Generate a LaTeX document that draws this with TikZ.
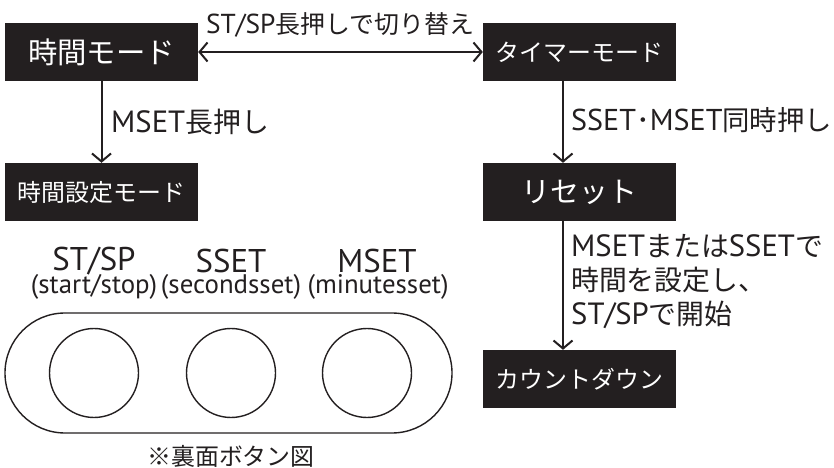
\documentclass[tikz,border=0pt]{standalone}
\usepackage{fontspec}
\setmainfont[Scale=1.1]{PT Sans}
\newfontfamily\cjk{Noto Sans CJK JP}
\newcommand{\J}[1]{{\cjk #1}}
\newcommand{\fs}[1]{\fontsize{#1}{#1}\selectfont}
\usetikzlibrary{arrows.meta}
\definecolor{ink}{HTML}{231F20}
\tikzset{
 px/.style={x=1bp,y=-1bp},
 blk/.style={fill=ink,text=white,inner sep=0pt,minimum width=193bp,minimum height=58bp,font=\cjk},
 barb/.tip={Straight Barb[length=8bp,width=19bp,line width=2bp]},
 conn/.style={draw=ink,line width=2bp,-barb},
 conn2/.style={draw=ink,line width=2bp,barb-barb},
 lab/.style={inner sep=0pt,text=ink,anchor=west,font=\fs{28}},
 lab2/.style={inner sep=0pt,text=ink,anchor=center},
 ring/.style={draw=ink,line width=1.4bp,circle,minimum size=89bp,inner sep=0pt},
}
\begin{document}
\begin{tikzpicture}[px]
\useasboundingbox (0,0) rectangle (834,468);
\node[blk,font=\cjk\fs{29.5}] (time) at (101.5,52) {時間モード};
\node[blk,font=\cjk\fs{24}] (timer) at (579.5,52) {タイマーモード};
\node[blk,font=\cjk\fs{24}] (set) at (101.5,192) {時間設定モード};
\node[blk,font=\cjk\fs{29}] (reset) at (579.5,192) {リセット};
\node[blk,font=\cjk\fs{24}] (cd) at (579.5,379) {カウントダウン};
\draw[conn2] (time.east) -- (timer.west);
\draw[conn] (time.south) ++(0,0) coordinate (a1) -- (a1 |- set.north);
\coordinate (tx) at (563,0);
\draw[conn] (tx |- timer.south) -- (tx |- reset.north);
\draw[conn] (tx |- reset.south) -- (tx |- cd.north);
\node[lab2,font=\fs{25}] (l1) at (340,25) {ST/SP\J{長押しで切り替え}};
\node[lab] (l2) at (111,122) {MSET\J{長押し}};
\node[lab,font=\fs{27.5}] (l3) at (571,120) {SSET\J{･}MSET\J{同時押し}};
\node[lab] (l4a) at (571,246) {MSET\J{または}SSET\J{で}};
\node[lab] (l4b) at (571,280) {\J{時間を設定し、}};
\node[lab] (l4c) at (571,315) {ST/SP\J{で開始}};
\node[draw=ink,line width=1.4bp,rounded corners=60bp,minimum width=447bp,minimum height=120bp,inner sep=0pt] (pill) at (228.5,373) {};
\node[ring] (b1) at (94,373) {};
\node[ring] (b2) at (231,373) {};
\node[ring] (b3) at (367,373) {};
\node[lab2,font=\fs{30}] (n1) at (94,261) {ST/SP};
\node[lab2,font=\fs{30}] (n2) at (231,261) {SSET};
\node[lab2,font=\fs{30}] (n3) at (377,261) {MSET};
\node[lab2,font=\fs{24.5}] (s1) at (94,287) {(start/stop)};
\node[lab2,font=\fs{24.5}] (s2) at (231,287) {(secondsset)};
\node[lab2,font=\fs{24.5}] (s3) at (378,287) {(minutesset)};
\node[lab2,font=\cjk\fs{24}] (cap) at (231,456) {※裏面ボタン図};
\end{tikzpicture}
\end{document}
